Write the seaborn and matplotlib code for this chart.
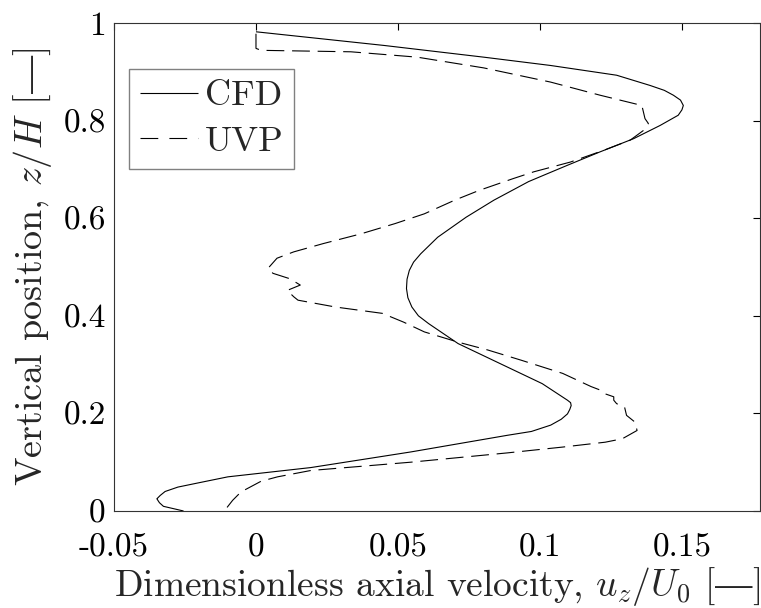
import matplotlib
matplotlib.use("Agg")
import matplotlib.pyplot as plt
import seaborn as sns
import pandas as pd

# ---- data ----
cfd_u = [0.0, 0.0451, 0.0802, 0.1037, 0.127, 0.1388, 0.1438, 0.147, 0.1495, 0.1505,
         0.1500, 0.1487, 0.1423, 0.133, 0.1212, 0.1095, 0.1013, 0.096, 0.0838, 0.074,
         0.064, 0.058, 0.0555, 0.054, 0.0532, 0.053, 0.0535, 0.0549, 0.0572, 0.0608,
         0.0712, 0.086, 0.1008, 0.1097, 0.1108, 0.111, 0.1105, 0.1097, 0.1075, 0.1038,
         0.097, 0.0884, 0.0545, 0.0193, -0.0099, -0.0200, -0.0275, -0.032, -0.0337,
         -0.0349, -0.034, -0.0326, -0.0255]
cfd_z = [0.982, 0.954, 0.930, 0.913, 0.893, 0.872, 0.862, 0.852, 0.842, 0.831,
         0.822, 0.811, 0.790, 0.763, 0.736, 0.708, 0.688, 0.675, 0.637, 0.602,
         0.561, 0.527, 0.510, 0.493, 0.475, 0.456, 0.437, 0.418, 0.400, 0.384,
         0.343, 0.302, 0.261, 0.227, 0.222, 0.216, 0.208, 0.199, 0.188, 0.176,
         0.163, 0.155, 0.121, 0.089, 0.070, 0.058, 0.049, 0.040, 0.032,
         0.025, 0.017, 0.0096, 0.0]

uvp_u = [0.0, 0.0, 0.0018, 0.0334, 0.0568, 0.0802, 0.1037, 0.1212, 0.1359, 0.137,
         0.1382, 0.1365, 0.1318, 0.1224, 0.1107, 0.0978, 0.0905, 0.0786, 0.070, 0.0593,
         0.049, 0.037, 0.0237, 0.0133, 0.0074, 0.0042, 0.006, 0.0119, 0.0156, 0.011,
         0.0133, 0.0148, 0.028, 0.0445, 0.052, 0.0593, 0.0712, 0.0816, 0.0934, 0.108,
         0.118, 0.1216, 0.123, 0.126, 0.126, 0.127, 0.1298, 0.1305, 0.1335, 0.1342,
         0.129, 0.123, 0.108, 0.0884, 0.0545, 0.0193, 0.0076, 0.0018, -0.0053, -0.007,
         -0.0082, -0.0105, -0.0094]
uvp_z = [0.978, 0.948, 0.944, 0.941, 0.930, 0.908, 0.879, 0.852, 0.831, 0.804,
         0.794, 0.780, 0.760, 0.739, 0.715, 0.695, 0.681, 0.657, 0.637, 0.609,
         0.589, 0.568, 0.548, 0.531, 0.518, 0.497, 0.487, 0.476, 0.463, 0.452,
         0.439, 0.432, 0.418, 0.405, 0.387, 0.367, 0.346, 0.330, 0.309, 0.282,
         0.255, 0.247, 0.240, 0.234, 0.227, 0.220, 0.213, 0.196, 0.182, 0.165,
         0.148, 0.141, 0.131, 0.119, 0.100, 0.083, 0.070, 0.061, 0.039, 0.029,
         0.022, 0.005, 0.0]

series_names = ["CFD", "UVP"]
x_ticks = [-0.05, 0.0, 0.05, 0.1, 0.15]
x_tick_labels = ["-0.05", "0", "0.05", "0.1", "0.15"]
y_ticks = [0.0, 0.2, 0.4, 0.6, 0.8, 1.0]
y_tick_labels = ["0", "0.2", "0.4", "0.6", "0.8", "1"]

df = pd.concat([
    pd.DataFrame({"u": cfd_u, "z": cfd_z, "src": series_names[0]}),
    pd.DataFrame({"u": uvp_u, "z": uvp_z, "src": series_names[1]}),
], ignore_index=True)

sns.set_theme(style="white")
plt.rcParams["font.family"] = ["cmr10", "DejaVu Serif"]
plt.rcParams["mathtext.fontset"] = "cm"
plt.rcParams["axes.unicode_minus"] = False
plt.rcParams["axes.formatter.use_mathtext"] = True

fig = plt.figure(figsize=(7.61, 6.08), dpi=100)
ax = fig.add_axes([114 / 761, 1 - 511 / 608, (760 - 114) / 761, (511 - 23) / 608])

sns.lineplot(data=df, x="u", y="z", hue="src", style="src",
             palette=["black", "black"], dashes=[(1, 0), (16, 7)],
             sort=False, estimator=None, units="src", linewidth=0.8, ax=ax)

ax.set_xlim(-0.05, 0.1775)
ax.set_ylim(0, 1)
ax.set_xticks(x_ticks)
ax.set_xticklabels(x_tick_labels)
ax.set_yticks(y_ticks)
ax.set_yticklabels(y_tick_labels)
ax.tick_params(direction="in", length=5, width=0.8, top=True, right=True,
               labelsize=24, colors="black")
ax.tick_params(axis="x", pad=16)
ax.tick_params(axis="y", pad=6)
for s in ax.spines.values():
    s.set_color("#333333")
    s.set_linewidth(0.8)

ax.set_xlabel(r"Dimensionless axial velocity, $u_z/U_0$ $[\mathcal{—}]$", fontsize=27, labelpad=2)
ax.set_ylabel(r"Vertical position, $z/H$ $[\mathcal{—}]$", fontsize=27.5, labelpad=6.5)

leg = ax.legend(loc="upper left", bbox_to_anchor=(0.0232, 0.905), borderaxespad=0,
                fontsize=26, handlelength=1.6, handletextpad=0.2, borderpad=0.3,
                labelspacing=0.37, fancybox=False, framealpha=1, edgecolor="#808080",
                title=None)
leg.get_frame().set_linewidth(1.0)
leg.get_lines()[1].set_dashes([16, 10])

fig.savefig("out.png", dpi=100)
